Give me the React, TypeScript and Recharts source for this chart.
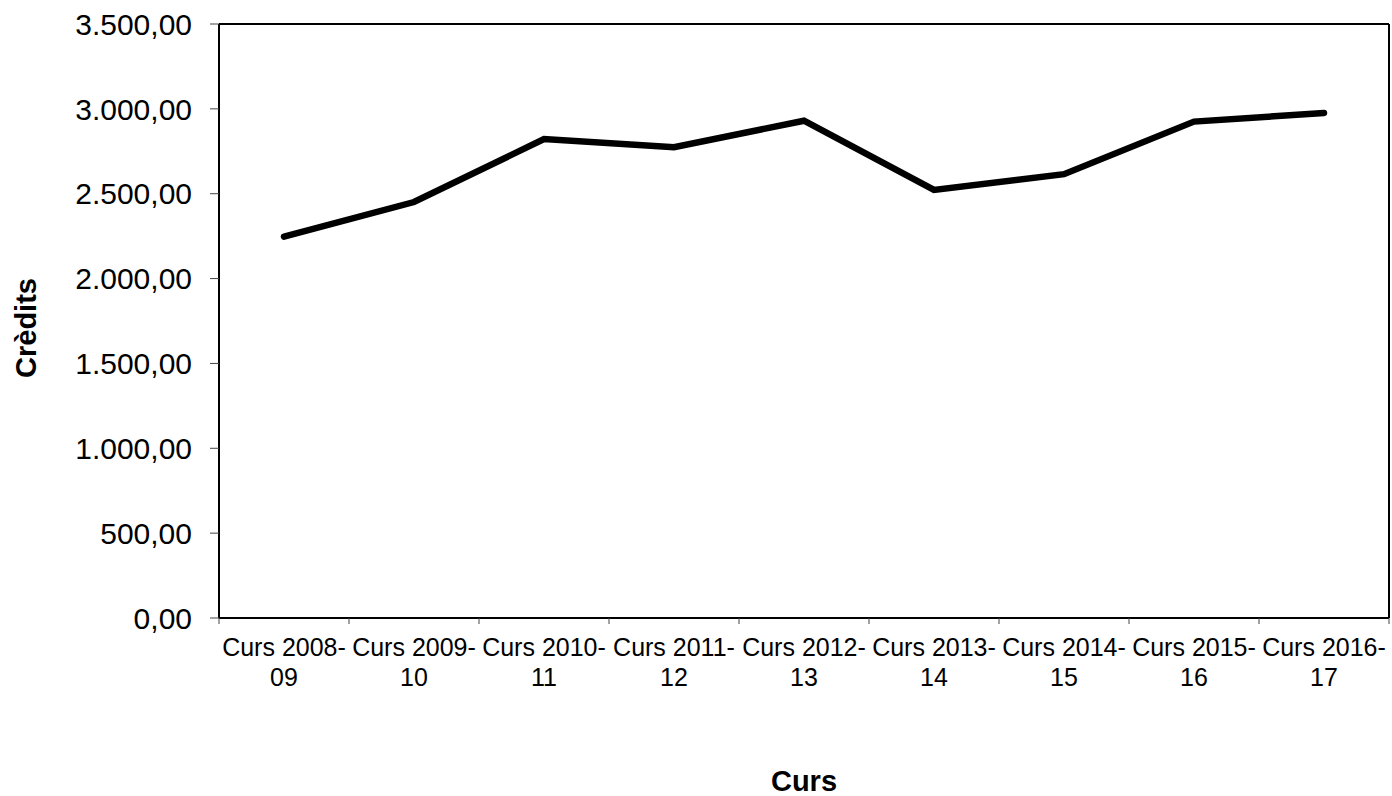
import React from "react";
import {
  LineChart,
  Line,
  XAxis,
  YAxis,
  CartesianGrid,
} from "recharts";

const categories = [
  "Curs 2008-09",
  "Curs 2009-10",
  "Curs 2010-11",
  "Curs 2011-12",
  "Curs 2012-13",
  "Curs 2013-14",
  "Curs 2014-15",
  "Curs 2015-16",
  "Curs 2016-17",
];

const credits = [2247, 2451, 2822, 2774, 2930, 2522, 2615, 2925, 2976];

const yTicks = [0, 500, 1000, 1500, 2000, 2500, 3000, 3500];

const data = categories.map((curs, i) => ({ curs, credits: credits[i] }));

const FONT = "'Liberation Sans', Arial, sans-serif";

function formatCa(v: number) {
  const [int, dec] = v.toFixed(2).split(".");
  return int.replace(/\B(?=(\d{3})+(?!\d))/g, ".") + "," + dec;
}

// label in two lines, tick marks on the borders between categories
function CursTick(props: any) {
  const { x, y, payload, index } = props;
  const label: string = payload.value;
  const cut = label.lastIndexOf("-") + 1;
  const half = payload.offset || 0;
  const last = index === categories.length - 1;
  return (
    <g>
      <line x1={x - half} x2={x - half} y1={y} y2={y + 6} stroke="#444" strokeWidth={1} />
      {last && (
        <line x1={x + half} x2={x + half} y1={y} y2={y + 6} stroke="#444" strokeWidth={1} />
      )}
      <text x={x} y={y} textAnchor="middle" fontSize={25} fill="#000" fontFamily={FONT}>
        <tspan x={x} dy={38}>
          {label.slice(0, cut)}
        </tspan>
        <tspan x={x} dy={30}>
          {label.slice(cut)}
        </tspan>
      </text>
    </g>
  );
}

export default function App() {
  return (
    <div style={{ position: "absolute", left: 0, top: 0, background: "#fff" }}>
      <LineChart
        width={1392}
        height={796}
        data={data}
        margin={{ top: 24, right: 3, left: 0, bottom: 0 }}
        style={{ fontFamily: FONT }}
      >
        <CartesianGrid
          stroke="#000"
          strokeWidth={2}
          fill="none"
          horizontalCoordinatesGenerator={({ offset }: any) => [
            offset.top,
            offset.top + offset.height,
          ]}
          verticalCoordinatesGenerator={({ offset }: any) => [
            offset.left,
            offset.left + offset.width,
          ]}
        />
        <XAxis
          dataKey="curs"
          scale="band"
          height={178}
          axisLine={false}
          tickLine={false}
          tickSize={0}
          tickMargin={0}
          interval={0}
          tick={<CursTick />}
          label={{
            content: (p: any) => {
              const vb = p.viewBox;
              return (
                <text
                  x={vb.x + vb.width / 2}
                  y={vb.y + 173}
                  textAnchor="middle"
                  fontSize={29}
                  fontWeight="bold"
                  fill="#000"
                  fontFamily={FONT}
                >
                  Curs
                </text>
              );
            },
          }}
        />
        <YAxis
          width={219}
          domain={[0, 3500]}
          ticks={yTicks}
          axisLine={false}
          tickSize={9}
          tickMargin={18}
          tickLine={{ stroke: "#444", strokeWidth: 1 }}
          tick={{ fontSize: 30, fill: "#000", fontFamily: FONT }}
          tickFormatter={formatCa}
          label={{
            content: (p: any) => {
              const vb = p.viewBox;
              const cx = vb.x + 36;
              const cy = vb.y + vb.height / 2 + 7;
              return (
                <text
                  x={cx}
                  y={cy}
                  transform={`rotate(-90 ${cx} ${cy})`}
                  textAnchor="middle"
                  fontSize={29}
                  fontWeight="bold"
                  fill="#000"
                  fontFamily={FONT}
                >
                  Crèdits
                </text>
              );
            },
          }}
        />
        <Line
          type="linear"
          dataKey="credits"
          stroke="#000"
          strokeWidth={6.5}
          strokeLinecap="round"
          dot={false}
          activeDot={false}
          isAnimationActive={false}
        />
      </LineChart>
    </div>
  );
}
